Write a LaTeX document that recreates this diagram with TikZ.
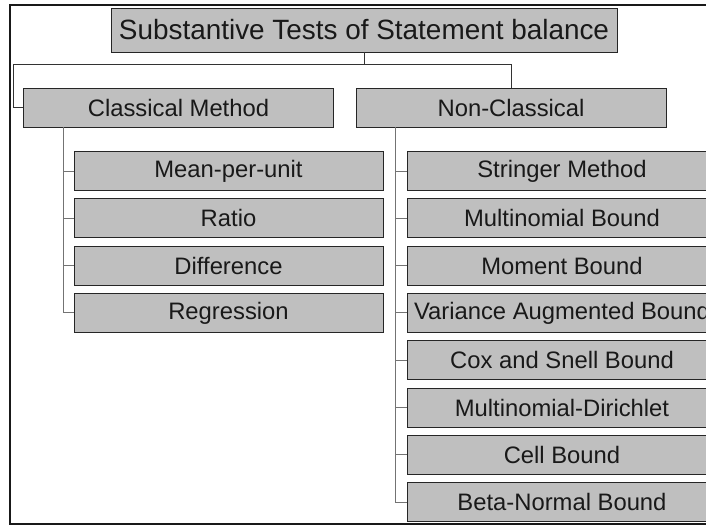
\documentclass[tikz,border=0pt]{standalone}
\usepackage{fontspec}
\setmainfont{Liberation Sans}
\begin{document}
\begin{tikzpicture}[x=1pt,y=-1pt,
  box/.style={draw=black!85,line width=0.9pt,fill=gray!50,inner sep=0pt,
    minimum height=39pt,text=black!90,font=\fontsize{23.8}{26}\selectfont},
  lbox/.style={box,minimum width=309pt},
  rbox/.style={box,minimum width=310pt},
  topline/.style={draw=black!80,line width=0.8pt},
  subline/.style={draw=black!55,line width=0.9pt}]
\useasboundingbox (0,0) rectangle (706,525);
\clip (0,0) rectangle (706,525);
\draw[line width=1.3pt,black!90] (10,5) rectangle (760,524);
\node[box,minimum width=506pt,minimum height=44pt,font=\fontsize{27.9}{30}\selectfont] (root) at (364,30) {Substantive Tests of Statement balance};
\node[rbox] (classical) at (178.5,107.5) {Classical Method};
\node[rbox] (nonc) at (511,107.5) {Non-Classical};
\coordinate (bus) at (364,64);
\draw[topline] (root.south) -- (bus);
\draw[topline] (bus) -| (nonc.north);
\draw[topline] (bus) -| ([xshift=-9.5pt]classical.west) -- (classical.west);
% classical children
\node[lbox] (c1) at (228.5,171) {Mean-per-unit};
\node[lbox] (c2) at (228.5,218.3) {Ratio};
\node[lbox] (c3) at (228.5,265.6) {Difference};
\node[lbox] (c4) at (228.5,312.9) {Regression};
\coordinate (ctop) at (63,127);
\foreach \n in {c1,c2,c3,c4} \draw[subline] (ctop) |- (\n.west);
% non-classical children
\node[rbox] (n1) at (562,171) {Stringer Method};
\node[rbox] (n2) at (562,218.3) {Multinomial Bound};
\node[rbox] (n3) at (562,265.6) {Moment Bound};
\node[rbox] (n4) at (562,312.9) {Variance Augmented Bound};
\node[rbox] (n5) at (562,360.2) {Cox and Snell Bound};
\node[rbox] (n6) at (562,407.5) {Multinomial-Dirichlet};
\node[rbox] (n7) at (562,454.8) {Cell Bound};
\node[rbox] (n8) at (562,502.1) {Beta-Normal Bound};
\coordinate (ntop) at (395,127);
\foreach \n in {n1,n2,n3,n4,n5,n6,n7,n8} \draw[subline] (ntop) |- (\n.west);
\end{tikzpicture}
\end{document}
